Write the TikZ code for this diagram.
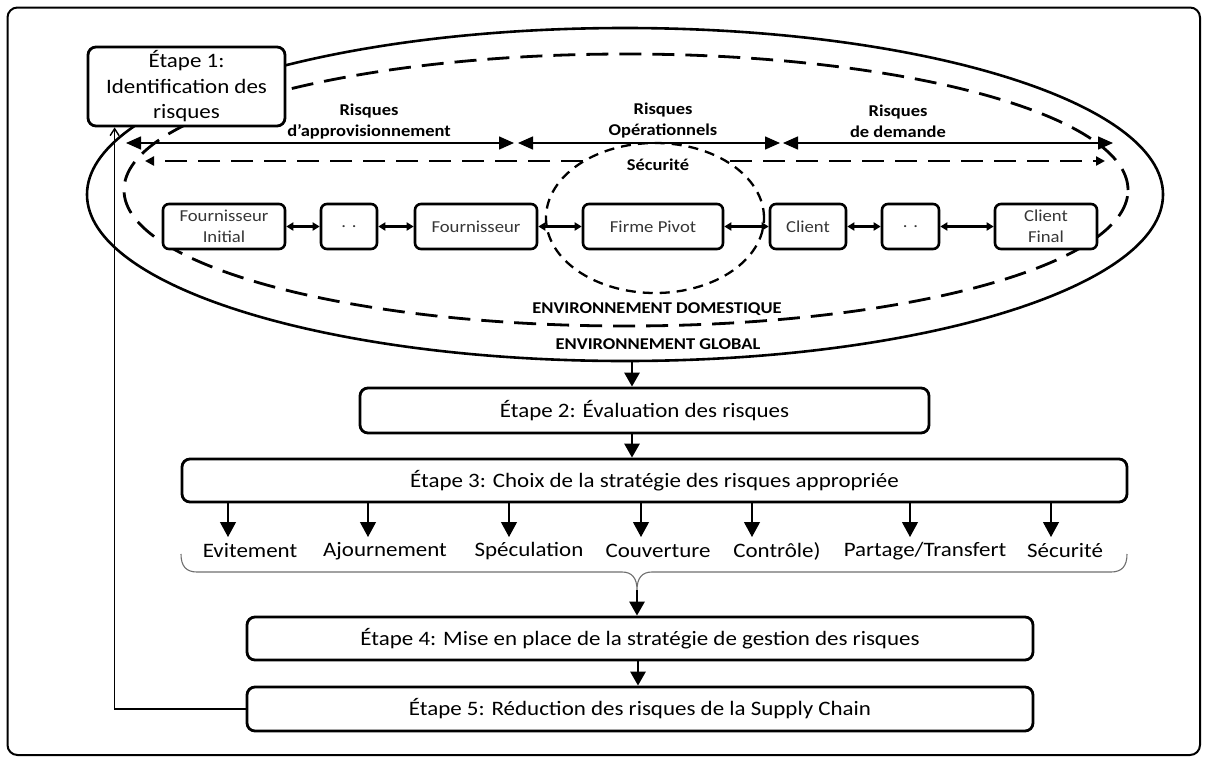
\documentclass[tikz,border=0pt]{standalone}
\usepackage{fontspec}
\setmainfont{Carlito}[FakeStretch=1.12]
\usetikzlibrary{arrows.meta,shapes.geometric}
\definecolor{chaintext}{RGB}{55,55,55}
\definecolor{bracegray}{RGB}{110,110,110}
\begin{document}
\begin{tikzpicture}[x=1pt,y=-1pt,
  stepbox/.style={draw, line width=2.8pt, rounded corners=8pt, fill=white, inner sep=0pt, font=\fontsize{20.5}{25.5}\selectfont, align=center},
  chainbox/.style={draw, line width=2.6pt, rounded corners=6pt, fill=white, minimum height=45pt, inner sep=0pt, font=\fontsize{16.7}{21}\selectfont, text=chaintext, align=center},
  boldlabel/.style={font=\bfseries\fontsize{16.5}{21}\selectfont, align=center, inner sep=0pt},
  stratlabel/.style={font=\fontsize{20.5}{24}\selectfont, inner sep=0pt},
  riskarrow/.style={line width=1.5pt, {Triangle[length=15pt,width=13pt]}-{Triangle[length=15pt,width=13pt]}},
  dasharrow/.style={line width=2.7pt, dash pattern=on 22pt off 11pt, -{Triangle[length=9pt,width=9pt]}},
  chainarrow/.style={line width=2.6pt, {Triangle[length=7pt,width=8pt]}-{Triangle[length=7pt,width=8pt]}},
  steparrow/.style={line width=2.8pt, -{Triangle[length=14pt,width=15pt]}},
  stratarrow/.style={line width=1.1pt, -{Triangle[length=15pt,width=16pt]}},
  fbarrow/.style={line width=1.4pt, -{Straight Barb[length=7pt,width=9pt]}},
  envellipse/.style={ellipse, draw, inner sep=0pt},
]
\useasboundingbox (0,0) rectangle (1207,758);
\draw[line width=2pt, rounded corners=10pt] (7.5,7.5) rectangle (1200,755);

% environments
\node[envellipse, line width=2.6pt, minimum width=1076pt, minimum height=333pt] (globalenv) at (625,194.5) {};
\node[envellipse, line width=2.8pt, dash pattern=on 22pt off 11pt, minimum width=1004pt, minimum height=272pt] (domenv) at (626,190) {};
\node[envellipse, line width=2.3pt, dash pattern=on 10pt off 7pt, minimum width=218pt, minimum height=150pt] (secu) at (655,218) {};

% step 1
\node[stepbox, minimum width=197pt, minimum height=79pt] (e1) at (186.5,86.5) {Étape 1:\\Identification des\\risques};

% risk labels and arrows
\node[boldlabel] (lapp) at (369,121.5) {Risques\\d'approvisionnement};
\node[boldlabel] (lope) at (663,121) {Risques\\Opérationnels};
\node[boldlabel] (ldem) at (898,121) {Risques\\de demande};
\coordinate (r1a) at (126,143);
\coordinate (r1b) at (514,143);
\coordinate (r2a) at (518,143);
\coordinate (r2b) at (780,143);
\coordinate (r3a) at (783,143);
\coordinate (r3b) at (1113,143);
\draw[riskarrow] (r1a) -- (r1b);
\draw[riskarrow] (r2a) -- (r2b);
\draw[riskarrow] (r3a) -- (r3b);

\coordinate (d1a) at (583,161);
\coordinate (d1b) at (145,161);
\coordinate (d2a) at (730,161);
\coordinate (d2b) at (1105,161);
\draw[dasharrow] (d1a) -- (d1b);
\draw[dasharrow] (d2a) -- (d2b);
\node[boldlabel] (lsec) at (658,165) {Sécurité};

% supply chain
\node[chainbox, minimum width=122pt] (fi) at (224,226.5) {Fournisseur\\Initial};
\node[chainbox, minimum width=56pt] (dd1) at (349,226.5) {. .};
\node[chainbox, minimum width=122pt] (fo) at (476,226.5) {Fournisseur};
\node[chainbox, minimum width=140pt] (fp) at (653,226.5) {Firme Pivot};
\node[chainbox, minimum width=76pt] (cl) at (808,226.5) {Client};
\node[chainbox, minimum width=57pt] (dd2) at (910.5,226.5) {. .};
\node[chainbox, minimum width=102pt] (cf) at (1046,226.5) {Client\\Final};
\draw[chainarrow] (fi.east) -- (dd1.west);
\draw[chainarrow] (dd1.east) -- (fo.west);
\draw[chainarrow] (fo.east) -- (fp.west);
\draw[chainarrow] (fp.east) -- (cl.west);
\draw[chainarrow] (cl.east) -- (dd2.west);
\draw[chainarrow] (dd2.east) -- (cf.west);

\node[boldlabel] (ldom) at (657,309) {ENVIRONNEMENT DOMESTIQUE};
\node[boldlabel] (lglob) at (658,344) {ENVIRONNEMENT GLOBAL};

% steps
\node[stepbox, minimum width=569pt, minimum height=45pt] (e2) at (644.5,410.5) {Étape 2: Évaluation des risques};
\node[stepbox, minimum width=945pt, minimum height=43pt] (e3) at (654.5,480.5) {Étape 3: Choix de la stratégie des risques appropriée};
\node[stepbox, minimum width=786pt, minimum height=43pt] (e4) at (640,638.5) {Étape 4: Mise en place de la stratégie de gestion des risques};
\node[stepbox, minimum width=786pt, minimum height=44pt] (e5) at (640,709) {Étape 5: Réduction des risques de la Supply Chain};

\coordinate (gb) at (632,361);
\draw[steparrow] (gb) -- (e2.north -| gb);
\draw[steparrow] (e2.south -| gb) -- (e3.north -| gb);

% strategies
\node[stratlabel] (sev) at (250,551) {Evitement};
\node[stratlabel] (saj) at (385,551) {Ajournement};
\node[stratlabel] (ssp) at (529,551) {Spéculation};
\node[stratlabel] (sco) at (658,551) {Couverture};
\node[stratlabel] (sct) at (777,551) {Contrôle)};
\node[stratlabel] (spt) at (925,551) {Partage/Transfert};
\node[stratlabel] (sse) at (1065,551) {Sécurité};
\coordinate (tev) at (228,537);
\coordinate (taj) at (368,537);
\coordinate (tsp) at (509,537);
\coordinate (tco) at (641,537);
\coordinate (tct) at (752,537);
\coordinate (tpt) at (910,537);
\coordinate (tse) at (1051,537);
\foreach \t in {tev,taj,tsp,tco,tct,tpt,tse}
  \draw[stratarrow] (e3.south -| \t) -- (\t);

% brace
\coordinate (bt) at (637,590);
\draw[bracegray, line width=1.1pt] (181,554) .. controls (181,566) and (186,572) .. (197,572) -- (622,572) .. controls (632,572) and (637,578) .. (bt) .. controls (637,578) and (642,572) .. (652,572) -- (1111,572) .. controls (1122,572) and (1127,566) .. (1127,554);
\draw[steparrow] (bt) -- (e4.north -| bt);
\coordinate (bt2) at (638,660);
\draw[steparrow] (e4.south -| bt2) -- (e5.north -| bt2);

% feedback
\draw[fbarrow] (e5.west) -| ([xshift=28pt]e1.south west);
\end{tikzpicture}
\end{document}
